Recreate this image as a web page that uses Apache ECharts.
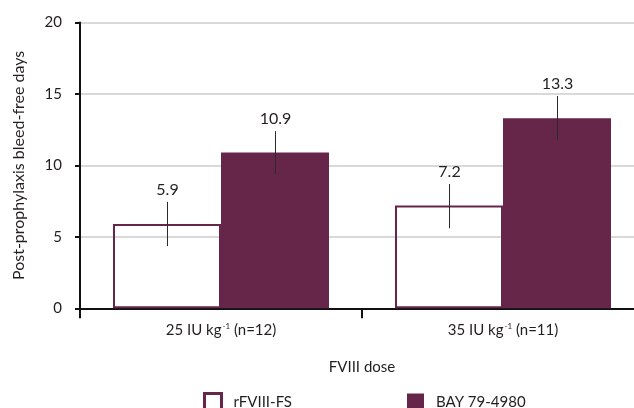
<!DOCTYPE html>
<html><head><meta charset="utf-8">
<script src="https://cdn.jsdelivr.net/npm/echarts@6/dist/echarts.min.js"></script>
<style>html,body{margin:0;padding:0;background:#fff}#c{width:634px;height:408px}</style>
</head><body><div id="c"></div>
<script>
const categories = ['25', '35'];
const categoryN = [12, 11];
const seriesNames = ['rFVIII-FS', 'BAY 79-4980'];
const rfviiiValues = [5.9, 7.2];
const bayValues = [10.9, 13.3];
const rfviiiErrLow = [4.35, 5.6];
const rfviiiErrHigh = [7.45, 8.7];
const bayErrLow = [9.4, 11.8];
const bayErrHigh = [12.4, 14.85];
const yTicks = [0, 5, 10, 15, 20];

const FONT = 'Lato';
const TXT = '#231f20';
const PURPLE = '#66264a';
const CAT_GAP = 0.234;

const chart = echarts.init(document.getElementById('c'));

function errSeries(values, lows, highs, side) {
  return {
    type: 'custom',
    z: 5,
    data: values.map((v, i) => [i, v, lows[i], highs[i]]),
    renderItem: function (params, api) {
      const i = api.value(0);
      const band = api.size([1, 0])[0];
      const bw = band * (1 - CAT_GAP) / 2;
      const c = api.coord([i, api.value(1)]);
      const x = Math.round(c[0] + side * bw / 2) + 0.5;
      const lo = api.coord([i, api.value(2)])[1];
      const hi = api.coord([i, api.value(3)])[1];
      return {
        type: 'group',
        children: [
          { type: 'line', shape: { x1: x, y1: lo, x2: x, y2: hi },
            style: { stroke: '#2a2a2a', lineWidth: 1 } },
          { type: 'text', x: x, y: hi - 4,
            style: { text: String(api.value(1)), fill: TXT, font: '16px ' + FONT,
              textAlign: 'center', textVerticalAlign: 'bottom' } }
        ]
      };
    }
  };
}

chart.setOption({
  animation: false,
  textStyle: { fontFamily: FONT, color: TXT },
  grid: { left: 80, width: 564, top: 22.5, height: 285.8, outerBoundsMode: 'none', containLabel: false },
  legend: {
    left: 203, top: 392, padding: 0,
    icon: 'rect', itemWidth: 17, itemHeight: 17, itemGap: 115, itemTextGap: 12,
    textStyle: { fontSize: 15, color: TXT, fontFamily: FONT, padding: [0, 0, 0, 7] },
    data: [
      { name: seriesNames[0], itemStyle: { color: '#fff', borderColor: PURPLE, borderWidth: 3 } },
      { name: seriesNames[1] }
    ]
  },
  xAxis: {
    type: 'category',
    data: categories,
    name: 'FVIII dose',
    nameLocation: 'middle',
    nameGap: 51,
    nameTextStyle: { fontSize: 15, color: TXT, fontFamily: FONT },
    axisLine: { lineStyle: { color: '#111', width: 2 } },
    axisTick: { show: true, length: 10, lineStyle: { color: '#111', width: 2 } },
    axisLabel: {
      margin: 14,
      formatter: function (v, idx) {
        return '{m|' + v + ' IU kg}{s|-1}{m| (n=' + categoryN[idx] + ')}';
      },
      rich: {
        m: { fontSize: 15, color: TXT, fontFamily: FONT },
        s: { fontSize: 8, color: TXT, fontFamily: FONT, padding: [0, 0, 8, 1] }
      }
    }
  },
  yAxis: {
    type: 'value',
    min: yTicks[0], max: yTicks[yTicks.length - 1], interval: 5,
    name: 'Post-prophylaxis bleed-free days',
    nameLocation: 'middle',
    nameGap: 53,
    nameTextStyle: { fontSize: 16, color: TXT, fontFamily: FONT },
    axisLine: { show: true, lineStyle: { color: '#111', width: 2 } },
    axisTick: { show: true, length: 5, lineStyle: { color: '#111', width: 2 } },
    axisLabel: { margin: 18, fontSize: 15, color: TXT, fontFamily: FONT },
    splitLine: { lineStyle: { color: '#cccccc', width: 1.5 } }
  },
  series: [
    {
      name: seriesNames[0], type: 'bar', data: rfviiiValues,
      barGap: '0%', barCategoryGap: (CAT_GAP * 100) + '%',
      itemStyle: { color: 'rgba(255,255,255,0)', borderColor: PURPLE, borderWidth: 2 }
    },
    {
      name: seriesNames[1], type: 'bar', data: bayValues,
      barGap: '0%', barCategoryGap: (CAT_GAP * 100) + '%',
      itemStyle: { color: PURPLE }
    },
    errSeries(rfviiiValues, rfviiiErrLow, rfviiiErrHigh, -1),
    errSeries(bayValues, bayErrLow, bayErrHigh, 1)
  ]
});
</script></body></html>
